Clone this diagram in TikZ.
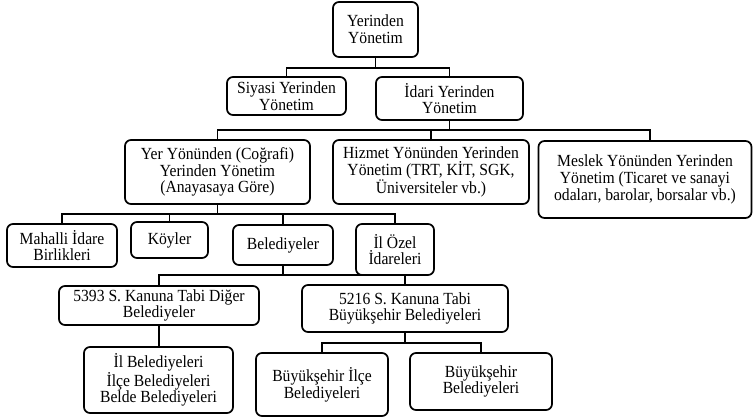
\documentclass[tikz,border=0pt]{standalone}
\usepackage{fontspec}
\setmainfont{Liberation Serif}[FakeStretch=0.92]
\begin{document}
\begin{tikzpicture}[x=1pt,y=-1pt,
  box/.style={draw=black, line width=1.7pt, rounded corners=6pt, align=center, inner sep=1pt,
    font=\fontsize{17}{16.8}\selectfont},
  conn/.style={draw=black, line width=1.5pt}]
\useasboundingbox (0,0) rectangle (754,417);
\node[box, minimum width=85pt, minimum height=55pt] (top) at (375.5,29.5) {Yerinden\\Yönetim};
\node[box, minimum width=119pt, minimum height=38pt] (siyasi) at (286.5,96) {Siyasi Yerinden\\Yönetim};
\node[box, minimum width=147pt, minimum height=43pt] (idari) at (449.5,98.5) {İdari Yerinden\\Yönetim};
\node[box, minimum width=185pt, minimum height=64pt] (yer) at (217.5,172) {Yer Yönünden (Coğrafi)\\Yerinden Yönetim\\(Anayasaya Göre)};
\node[box, minimum width=196pt, minimum height=64pt] (hizmet) at (431,172) {Hizmet Yönünden Yerinden\\Yönetim (TRT, KİT, SGK,\\Üniversiteler vb.)};
\node[box, minimum width=213pt, minimum height=77pt] (meslek) at (645,179.5) {Meslek Yönünden Yerinden\\Yönetim (Ticaret ve sanayi\\odaları, barolar, borsalar vb.)};
\node[box, minimum width=110pt, minimum height=43pt] (mahalli) at (62,245.5) {Mahalli İdare\\Birlikleri};
\node[box, minimum width=77pt, minimum height=36pt] (koyler) at (169.5,240) {Köyler};
\node[box, minimum width=100pt, minimum height=40pt] (beled) at (283,245) {Belediyeler};
\node[box, minimum width=78pt, minimum height=51pt] (ilozel) at (395,249.5) {İl Özel\\İdareleri};
\node[box, minimum width=200pt, minimum height=39pt] (k5393) at (159,305.5) {5393 S. Kanuna Tabi Diğer\\Belediyeler};
\node[box, minimum width=206pt, minimum height=47pt] (k5216) at (405,308.5) {5216 S. Kanuna Tabi\\Büyükşehir Belediyeleri};
\node[box, minimum width=149pt, minimum height=66pt] (ilbel) at (158.5,380) {İl Belediyeleri\\İlçe Belediyeleri\\Belde Belediyeleri};
\node[box, minimum width=132pt, minimum height=63pt] (builce) at (322,384.5) {Büyükşehir İlçe\\Belediyeleri};
\node[box, minimum width=142pt, minimum height=57pt] (bubel) at (481,381.5) {Büyükşehir\\Belediyeleri};
% buses
\coordinate (b1) at (375.5,68);
\coordinate (b2) at (449.5,130);
\coordinate (b3) at (217.5,214);
\coordinate (b4) at (283,275);
\coordinate (b5) at (405,343);
\draw[conn] (top.south) -- (b1);
\draw[conn] (siyasi.north) |- (b1) -| (idari.north);
\draw[conn] (idari.south) -- (b2);
\draw[conn] (yer.north) |- (b2) -| ([xshift=5pt]meslek.north);
\draw[conn] (hizmet.north) -- (hizmet.north |- b2);
\draw[conn] (yer.south) -- (b3);
\draw[conn] (mahalli.north) |- (b3) -| (ilozel.north);
\draw[conn] (koyler.north) -- (koyler.north |- b3);
\draw[conn] (beled.north) -- (beled.north |- b3);
\draw[conn] (beled.south) -- (b4);
\draw[conn] (k5393.north) |- (b4) -| (k5216.north);
\draw[conn] (k5393.south) -- (k5393.south |- ilbel.north);
\draw[conn] (k5216.south) -- (b5);
\draw[conn] (builce.north) |- (b5) -| (bubel.north);
\end{tikzpicture}
\end{document}
